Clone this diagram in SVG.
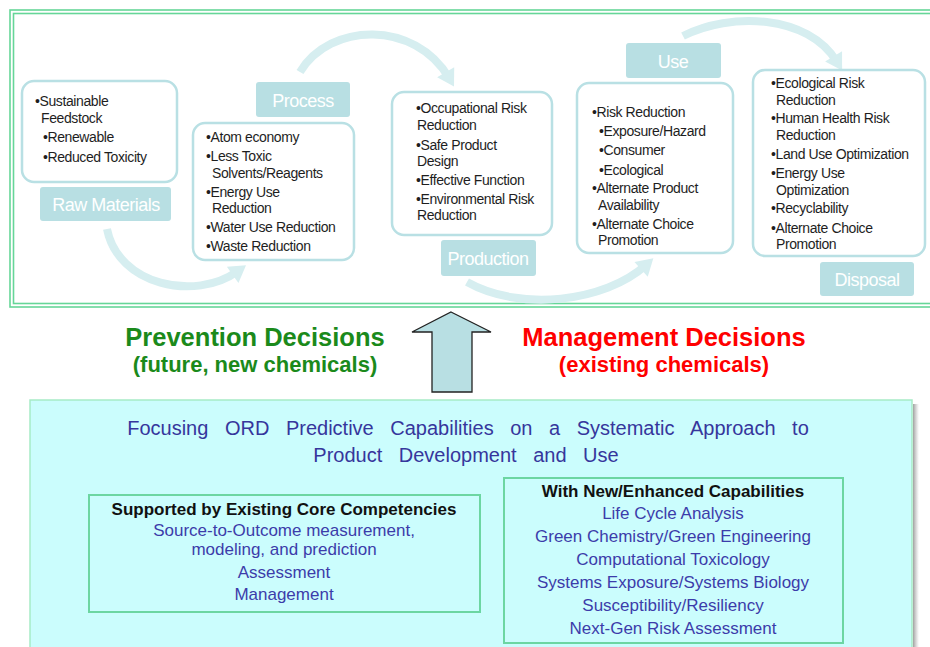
<svg xmlns="http://www.w3.org/2000/svg" width="930" height="647" viewBox="0 0 930 647">
<style>
.frame{fill:none;stroke:#66d698;stroke-width:1.6}
.box{fill:#ffffff;stroke:#b9e0e4;stroke-width:2.5}
.lbl{fill:#b8dfe3}
.lt{font-family:"Liberation Sans",Arial,sans-serif;font-size:18px;fill:#ffffff;text-anchor:middle;letter-spacing:-0.5px}
.bt{font-family:"Liberation Sans",Arial,sans-serif;font-size:14px;fill:#1e1e1e;letter-spacing:-0.4px}
.arc{fill:none;stroke:#d6eef0;stroke-width:8}
.dec{font-family:"Liberation Sans",Arial,sans-serif;font-weight:bold;text-anchor:middle}
.title{font-family:"Liberation Sans",Arial,sans-serif;font-size:20px;fill:#36369c;text-anchor:middle;word-spacing:11px}
.hd{font-family:"Liberation Sans",Arial,sans-serif;font-size:17px;font-weight:bold;fill:#111111;text-anchor:middle}
.it{font-family:"Liberation Sans",Arial,sans-serif;font-size:17px;fill:#3c3caa;text-anchor:middle}
.inner{fill:none;stroke:#6cd6a2;stroke-width:2}
</style>
<defs>
<marker id="ah" markerUnits="userSpaceOnUse" markerWidth="20" markerHeight="22" viewBox="0 -10 16 20" refX="6" refY="0" orient="auto">
<path d="M0,-9 L15,0 L0,9 z" fill="#d6eef0"/>
</marker>
<linearGradient id="sh" x1="0" y1="0" x2="1" y2="0">
<stop offset="0" stop-color="#777777" stop-opacity="0.7"/>
<stop offset="1" stop-color="#999999" stop-opacity="0"/>
</linearGradient>
</defs>
<rect width="930" height="647" fill="#ffffff"/>

<g id="top-frame">
<rect class="frame" x="10" y="10" width="940" height="297"/>
<rect class="frame" x="13.5" y="13.5" width="940" height="290" stroke-width="1.2"/>
</g>

<g id="connectors">
<path class="arc" d="M107 229 C118 285 195 302 238 271" marker-end="url(#ah)"/>
<path class="arc" d="M300 72 C330 22 415 20 449 78" marker-end="url(#ah)"/>
<path class="arc" d="M467 282 C520 312 605 302 646 265" marker-end="url(#ah)"/>
<path class="arc" d="M683 36 C730 12 808 14 837 62" marker-end="url(#ah)"/>
<polygon id="up-arrow" points="451,312 491,332 472,332 472,392 432,392 432,332 412,332" fill="#b8dfe3" stroke="#222222" stroke-width="1.3"/>
</g>

<g id="raw-materials">
<rect class="box" x="22" y="81" width="155" height="101" rx="12"/>
<text class="bt" x="35" y="106">•Sustainable</text>
<text class="bt" x="41" y="123">Feedstock</text>
<text class="bt" x="43" y="142">•Renewable</text>
<text class="bt" x="43" y="162">•Reduced Toxicity</text>
<rect class="lbl" x="40" y="187" width="131" height="34" rx="3"/>
<text class="lt" x="106" y="210.5">Raw Materials</text>
</g>

<g id="process">
<rect class="lbl" x="256" y="82" width="94" height="35" rx="3"/>
<text class="lt" x="303" y="106.5">Process</text>
<rect class="box" x="193" y="123" width="161" height="137" rx="12"/>
<text class="bt" x="206" y="142">•Atom economy</text>
<text class="bt" x="206" y="161">•Less Toxic</text>
<text class="bt" x="212" y="178">Solvents/Reagents</text>
<text class="bt" x="206" y="197">•Energy Use</text>
<text class="bt" x="212" y="213">Reduction</text>
<text class="bt" x="206" y="232">•Water Use Reduction</text>
<text class="bt" x="206" y="251">•Waste Reduction</text>
</g>

<g id="production">
<rect class="box" x="392" y="92" width="160" height="143" rx="12"/>
<text class="bt" x="416" y="113">•Occupational Risk</text>
<text class="bt" x="417" y="130">Reduction</text>
<text class="bt" x="416" y="150">•Safe Product</text>
<text class="bt" x="417" y="166">Design</text>
<text class="bt" x="416" y="185">•Effective Function</text>
<text class="bt" x="416" y="204">•Environmental Risk</text>
<text class="bt" x="417" y="220">Reduction</text>
<rect class="lbl" x="441" y="240" width="95" height="36" rx="3"/>
<text class="lt" x="488" y="264.5">Production</text>
</g>

<g id="use">
<rect class="lbl" x="626" y="43" width="95" height="35" rx="3"/>
<text class="lt" x="673" y="67.5">Use</text>
<rect class="box" x="577" y="83" width="156" height="170" rx="12"/>
<text class="bt" x="592" y="117">•Risk Reduction</text>
<text class="bt" x="599" y="136">•Exposure/Hazard</text>
<text class="bt" x="599" y="155">•Consumer</text>
<text class="bt" x="599" y="175">•Ecological</text>
<text class="bt" x="592" y="193">•Alternate Product</text>
<text class="bt" x="598" y="210">Availability</text>
<text class="bt" x="592" y="229">•Alternate Choice</text>
<text class="bt" x="598" y="245">Promotion</text>
</g>

<g id="disposal">
<rect class="box" x="753" y="70" width="172" height="186" rx="12"/>
<text class="bt" x="771" y="88">•Ecological Risk</text>
<text class="bt" x="776" y="105">Reduction</text>
<text class="bt" x="771" y="123">•Human Health Risk</text>
<text class="bt" x="776" y="140">Reduction</text>
<text class="bt" x="771" y="159">•Land Use Optimization</text>
<text class="bt" x="771" y="178">•Energy Use</text>
<text class="bt" x="776" y="195">Optimization</text>
<text class="bt" x="771" y="213">•Recyclability</text>
<text class="bt" x="771" y="233">•Alternate Choice</text>
<text class="bt" x="776" y="249">Promotion</text>
<rect class="lbl" x="820" y="262" width="94" height="34" rx="3"/>
<text class="lt" x="867" y="285.5">Disposal</text>
</g>

<g id="prevention">
<text class="dec" x="255" y="346" font-size="25.5" fill="#1b8a1b">Prevention Decisions</text>
<text class="dec" x="255" y="372" font-size="22" fill="#1b8a1b">(future, new chemicals)</text>
</g>
<g id="management">
<text class="dec" x="664" y="346" font-size="25.5" fill="#ff0000">Management Decisions</text>
<text class="dec" x="664" y="372" font-size="22" fill="#ff0000">(existing chemicals)</text>
</g>

<g id="ord-box">
<rect x="913" y="404" width="6" height="250" fill="url(#sh)"/>
<rect x="30" y="400" width="882" height="260" fill="#cbfdfd" stroke="#a6ebc6" stroke-width="1.5"/>
<text class="title" x="468" y="435">Focusing ORD Predictive Capabilities on a Systematic Approach to</text>
<text class="title" x="466" y="462">Product Development and Use</text>
</g>

<g id="core-competencies">
<rect class="inner" x="89" y="495" width="391" height="117"/>
<text class="hd" x="284" y="515">Supported by Existing Core Competencies</text>
<text class="it" x="284" y="536" font-size="16.5">Source-to-Outcome measurement,</text>
<text class="it" x="284" y="555" font-size="16.5">modeling, and prediction</text>
<text class="it" x="284" y="578">Assessment</text>
<text class="it" x="284" y="600">Management</text>
</g>

<g id="new-capabilities">
<rect class="inner" x="504" y="478" width="339" height="165"/>
<text class="hd" x="673" y="497">With New/Enhanced Capabilities</text>
<text class="it" x="673" y="519">Life Cycle Analysis</text>
<text class="it" x="673" y="542">Green Chemistry/Green Engineering</text>
<text class="it" x="673" y="565">Computational Toxicology</text>
<text class="it" x="673" y="588">Systems Exposure/Systems Biology</text>
<text class="it" x="673" y="611">Susceptibility/Resiliency</text>
<text class="it" x="673" y="634">Next-Gen Risk Assessment</text>
</g>
</svg>
